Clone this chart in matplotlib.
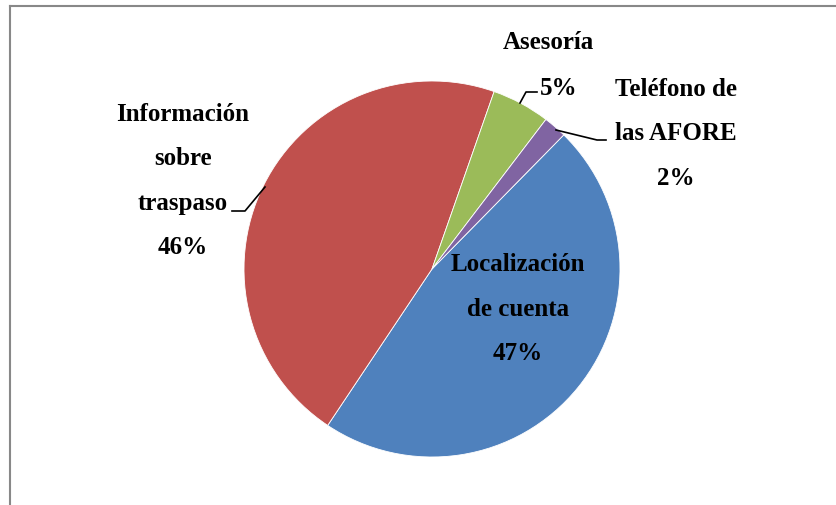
import numpy as np
import matplotlib.pyplot as plt

# Datos
categorias = ['Localización\nde cuenta', 'Información\nsobre\ntraspaso', 'Asesoría', 'Teléfono de\nlas AFORE']
valores = [47, 46, 5, 2]
colores = ['#4F81BD', '#C0504D', '#9BBB59', '#8064A2']

W, H = 837, 506
fig = plt.figure(figsize=(W / 100, H / 100), dpi=100)
ax = fig.add_axes([0, 0, 1, 1])

cx, cy, r = 432, H - 270, 188
ax.pie(valores, colors=colores, startangle=45.5, counterclock=False,
       center=(cx, cy), radius=r, frame=True,
       wedgeprops=dict(edgecolor='white', linewidth=0.6))
ax.set_xlim(0, W)
ax.set_ylim(0, H)
ax.set_aspect('equal')
ax.axis('off')

font = dict(family=['Liberation Serif', 'DejaVu Serif'], fontsize=18,
            fontweight='bold', color='black', ha='center', va='center',
            linespacing=2.2)

# etiquetas
ax.text(518, H - 309, categorias[0] + '\n%d%%' % valores[0], **font)
ax.text(183, H - 181, categorias[1] + '\n%d%%' % valores[1], **font)
ax.text(548, H - 42, categorias[2], **font)
ax.text(559, H - 88, '%d%%' % valores[2], **font)
ax.text(676, H - 134, categorias[3] + '\n%d%%' % valores[3], **font)

# lineas guia
ax.plot([265, 245, 232], [H - 188, H - 212, H - 212], color='black', lw=1.2)
ax.plot([520, 526, 537], [H - 104, H - 93, H - 93], color='black', lw=1.2)
ax.plot([556, 597, 606], [H - 131, H - 141, H - 141], color='black', lw=1.2)

# marco
ax.plot([10, 10], [0, H - 7], color='#888888', lw=1.5, clip_on=False)
ax.plot([10, W], [H - 7, H - 7], color='#888888', lw=1.5, clip_on=False)

plt.savefig('out.png', dpi=100)
